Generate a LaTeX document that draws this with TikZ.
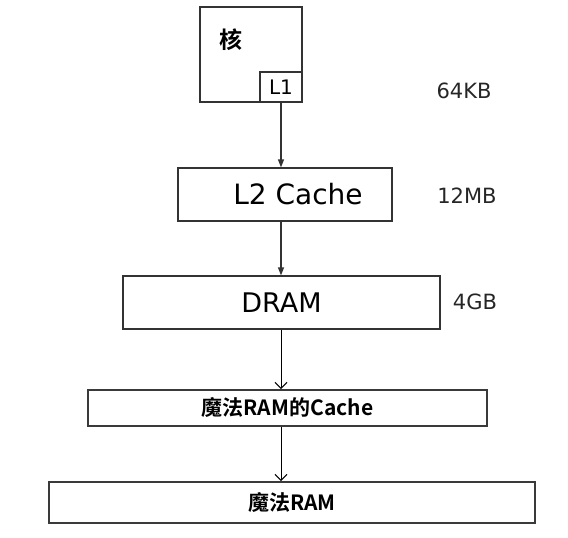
\documentclass[tikz,border=0pt]{standalone}
\usepackage{fontspec}
\setmainfont{DejaVu Sans}
\newfontfamily\cjk{Noto Sans CJK SC}[BoldFont={* Bold}]
\usetikzlibrary{arrows.meta}
\definecolor{topline}{HTML}{333333}
\definecolor{botline}{HTML}{3A3A3A}
\begin{document}
\begin{tikzpicture}[x=1pt,y=-1pt,
  topbox/.style={draw=topline,line width=1.2pt,inner sep=0pt,fill=white},
  botbox/.style={draw=botline,line width=2pt,inner sep=0pt,fill=white},
  toparrow/.style={draw=topline,line width=1.2pt,-{Triangle[length=8pt,width=6pt]}},
  botarrow/.style={draw=black,line width=1pt,-{Straight Barb[length=6pt,width=12pt]}},
  sizelbl/.style={font=\fontsize{21}{24}\selectfont,inner sep=0pt,text=black!85},
  cjklbl/.style={font=\cjk\bfseries\fontsize{21}{24}\selectfont,inner sep=0pt}]
\useasboundingbox (0,0) rectangle (568,538);
\node[topbox,minimum width=102pt,minimum height=95pt] (core) at (251,54.5) {};
\node[font=\cjk\bfseries\fontsize{23}{26}\selectfont,inner sep=0pt] (he) at (231,40) {核};
\node[topbox,minimum width=42pt,minimum height=30pt,font=\fontsize{20}{22}\selectfont] (l1) at (281,87) {L1};
\node[topbox,minimum width=214pt,minimum height=53pt,font=\fontsize{28}{32}\selectfont] (l2) at (285,194.5) {\hspace{26pt}L2 Cache};
\node[topbox,minimum width=317pt,minimum height=53pt,font=\fontsize{27}{32}\selectfont] (dram) at (281.5,302.5) {DRAM};
\node[botbox,minimum width=399pt,minimum height=36pt,cjklbl] (mcache) at (287.5,408) {魔法RAM的Cache};
\node[botbox,minimum width=486pt,minimum height=41pt,cjklbl] (mram) at (292,502.5) {魔法RAM};
\node[sizelbl] (s1) at (464,91) {64KB};
\node[sizelbl] (s2) at (467,196) {12MB};
\node[sizelbl] (s3) at (475,302) {4GB};
\draw[toparrow] (l1.south) -- (l1.south |- l2.north);
\draw[toparrow] (l2.south -| l1.south) -- (l1.south |- dram.north);
\draw[botarrow] (dram.south -| l1.south) -- (l1.south |- mcache.north);
\draw[botarrow] (mcache.south -| l1.south) -- (l1.south |- mram.north);
\end{tikzpicture}
\end{document}
